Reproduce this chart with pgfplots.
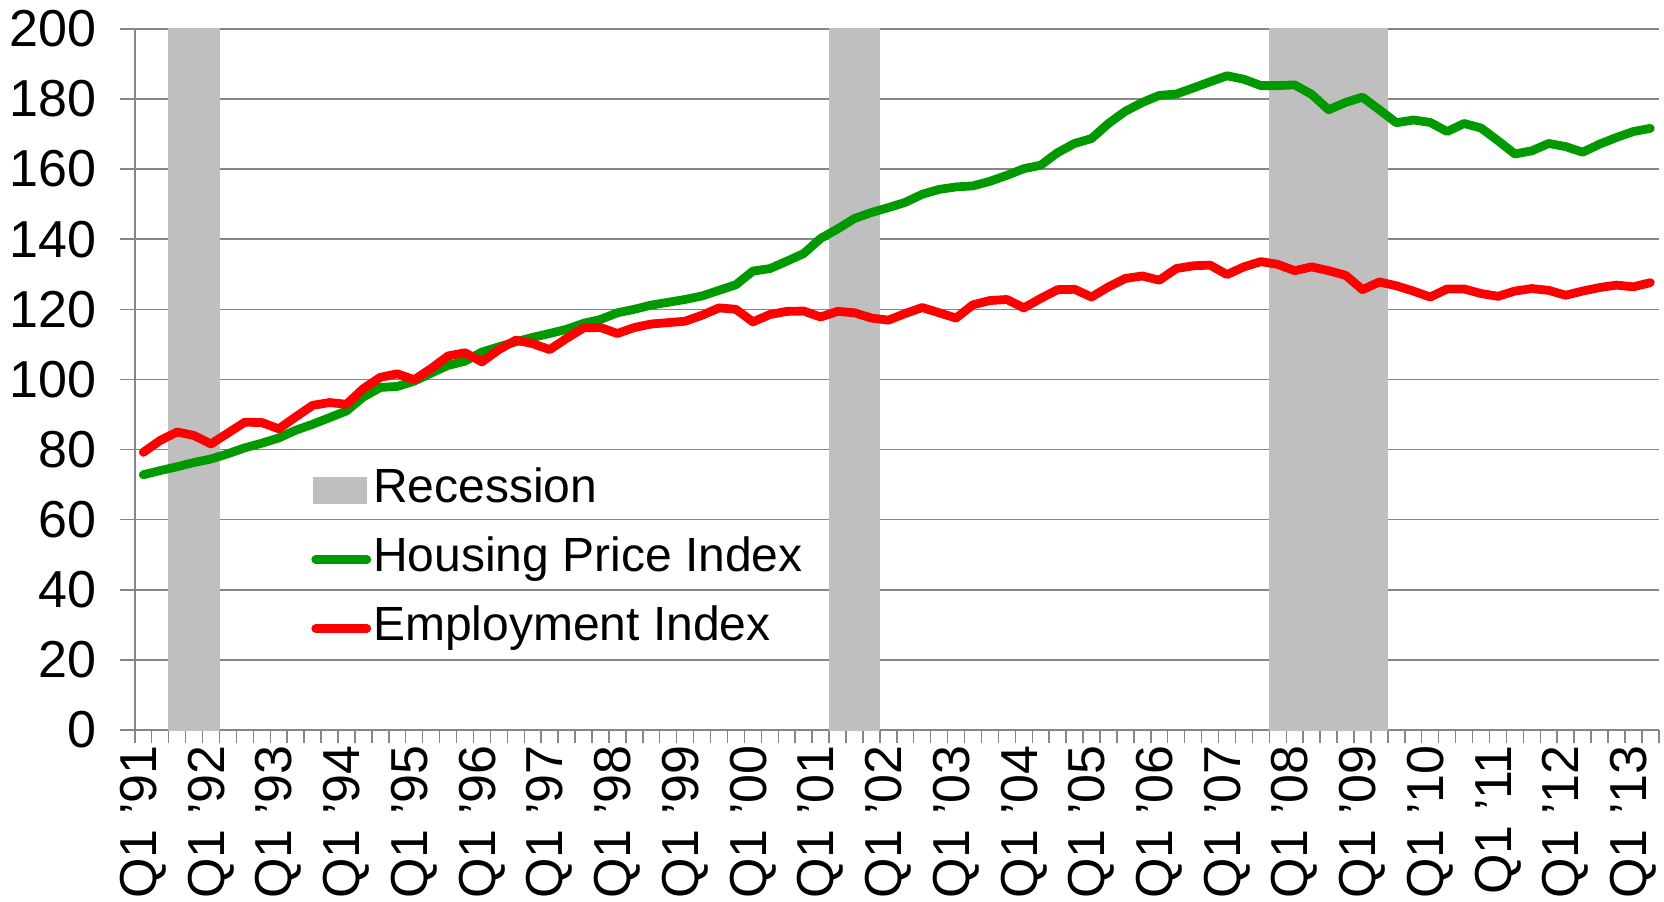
\documentclass[border=0pt]{standalone}
\usepackage{fontspec}
\setmainfont{Liberation Sans}
\usepackage{pgfplots}
\pgfplotsset{compat=1.18}
\definecolor{hpigreen}{RGB}{0,153,0}
\definecolor{empred}{RGB}{255,0,0}
\definecolor{recgray}{RGB}{191,191,191}
\definecolor{gridgray}{RGB}{134,134,134}
\newcommand{\bigfont}{\fontsize{24}{28}\selectfont}
\newcommand{\tickfont}{\fontsize{26}{30}\selectfont}
\pgfplotsset{
  linelegend/.style={legend image code/.code={\draw[##1] (0pt,0pt) -- (25.5pt,0pt);}},
  boxlegend/.style={legend image code/.code={\fill[recgray] (-1pt,-6.6pt) rectangle (25.5pt,6.6pt);}},
}
\begin{document}
\begin{tikzpicture}
\begin{axis}[
  scale only axis, width=762pt, height=350.6pt,
  xmin=-0.5, xmax=89.5, ymin=0, ymax=200,
  axis lines*=left,
  axis line style={gridgray, line width=0.75pt},
  ytick={0,20,...,200},
  ymajorgrids,
  major grid style={gridgray, line width=0.75pt},
  tick align=outside,
  major tick length=7.5pt, minor tick length=6.7pt,
  tick style={gridgray, line width=0.75pt},
  xtick={0,4,...,88},
  xticklabels={Q1 '91,Q1 '92,Q1 '93,Q1 '94,Q1 '95,Q1 '96,Q1 '97,Q1 '98,Q1 '99,Q1 '00,Q1 '01,Q1 '02,Q1 '03,Q1 '04,Q1 '05,Q1 '06,Q1 '07,Q1 '08,Q1 '09,Q1 '10,Q1 '11,Q1 '12,Q1 '13},
  minor xtick={-0.5,0.5,...,89.5},
  major x tick style={draw=none},
  xticklabel style={rotate=90, anchor=east, font=\tickfont, inner sep=0pt},
  yticklabel style={font=\tickfont, inner sep=0pt, xshift=-11.7pt},
  /pgf/number format/assume math mode=true,
  legend cell align=left,
  legend style={at={(0.1156,0.3737)}, anchor=north west, draw=none, fill=none,
    font=\bigfont, inner sep=0pt, row sep=12.5pt, column sep=1pt,
    nodes={inner sep=0pt, text height=17pt, text depth=5pt}},
]
\coordinate (O) at (rel axis cs:0,0);
\addplot[ybar, bar width=1, bar shift=0, fill=recgray, draw=recgray, line width=0.4pt, boxlegend]
  coordinates {(2,200)(3,200)(4,200)(41,200)(42,200)(43,200)
  (67,200)(68,200)(69,200)(70,200)(71,200)(72,200)(73,200)};
\addlegendentry{Recession}
\addplot[hpigreen, line width=4.4pt, line join=round, line cap=round, linelegend]
  table[row sep=\\] {
x y\\
0 72.8\\ 1 74.0\\ 2 75.1\\ 3 76.3\\ 4 77.3\\ 5 78.8\\ 6 80.5\\ 7 81.8\\ 8 83.3\\ 9 85.5\\
10 87.2\\ 11 89.1\\ 12 91.0\\ 13 95.0\\ 14 97.7\\ 15 98.0\\ 16 99.5\\ 17 101.8\\ 18 104.0\\ 19 105.2\\
20 107.8\\ 21 109.3\\ 22 110.7\\ 23 112.0\\ 24 113.1\\ 25 114.3\\ 26 116.0\\ 27 117.1\\ 28 119.0\\ 29 120.0\\
30 121.2\\ 31 122.0\\ 32 122.8\\ 33 123.8\\ 34 125.4\\ 35 127.0\\ 36 130.9\\ 37 131.6\\ 38 133.7\\ 39 135.9\\
40 140.2\\ 41 142.9\\ 42 145.9\\ 43 147.6\\ 44 149.0\\ 45 150.5\\ 46 152.8\\ 47 154.2\\ 48 154.9\\ 49 155.2\\
50 156.5\\ 51 158.2\\ 52 160.1\\ 53 161.1\\ 54 164.7\\ 55 167.3\\ 56 168.7\\ 57 173.0\\ 58 176.5\\ 59 179.0\\
60 181.0\\ 61 181.4\\ 62 183.1\\ 63 184.9\\ 64 186.6\\ 65 185.6\\ 66 183.8\\ 67 183.8\\ 68 184.0\\ 69 181.3\\
70 176.9\\ 71 179.0\\ 72 180.5\\ 73 176.9\\ 74 173.2\\ 75 174.0\\ 76 173.3\\ 77 170.7\\ 78 173.0\\ 79 171.7\\
80 168.1\\ 81 164.3\\ 82 165.2\\ 83 167.3\\ 84 166.4\\ 85 164.8\\ 86 167.1\\ 87 169.0\\ 88 170.7\\ 89 171.6\\
};
\addlegendentry{Housing Price Index}
\addplot[empred, line width=4.4pt, line join=round, line cap=round, linelegend]
  table[row sep=\\] {
x y\\
0 79.2\\ 1 82.6\\ 2 85.0\\ 3 84.0\\ 4 81.6\\ 5 84.7\\ 6 87.8\\ 7 87.7\\ 8 85.9\\ 9 89.3\\
10 92.6\\ 11 93.4\\ 12 92.9\\ 13 97.4\\ 14 100.6\\ 15 101.6\\ 16 99.9\\ 17 103.1\\ 18 106.7\\ 19 107.6\\
20 105.0\\ 21 108.5\\ 22 111.2\\ 23 110.2\\ 24 108.5\\ 25 111.7\\ 26 114.7\\ 27 114.8\\ 28 113.1\\ 29 114.8\\
30 115.8\\ 31 116.2\\ 32 116.6\\ 33 118.3\\ 34 120.4\\ 35 120.0\\ 36 116.4\\ 37 118.5\\ 38 119.4\\ 39 119.5\\
40 117.8\\ 41 119.4\\ 42 119.0\\ 43 117.5\\ 44 116.9\\ 45 118.8\\ 46 120.5\\ 47 119.0\\ 48 117.5\\ 49 121.3\\
50 122.5\\ 51 122.8\\ 52 120.4\\ 53 123.1\\ 54 125.6\\ 55 125.7\\ 56 123.5\\ 57 126.4\\ 58 128.8\\ 59 129.5\\
60 128.3\\ 61 131.6\\ 62 132.4\\ 63 132.6\\ 64 129.9\\ 65 132.1\\ 66 133.6\\ 67 132.8\\ 68 131.0\\ 69 132.1\\
70 131.0\\ 71 129.7\\ 72 125.6\\ 73 127.8\\ 74 126.7\\ 75 125.2\\ 76 123.5\\ 77 125.8\\ 78 125.8\\ 79 124.5\\
80 123.7\\ 81 125.2\\ 82 125.9\\ 83 125.4\\ 84 124.0\\ 85 125.2\\ 86 126.2\\ 87 126.9\\ 88 126.4\\ 89 127.6\\
};
\addlegendentry{Employment Index}
\end{axis}
\pgfresetboundingbox
\path[use as bounding box] (O) ++(-67.4pt,-85.5pt) rectangle ++(832pt,450.5pt);
\end{tikzpicture}
\end{document}
